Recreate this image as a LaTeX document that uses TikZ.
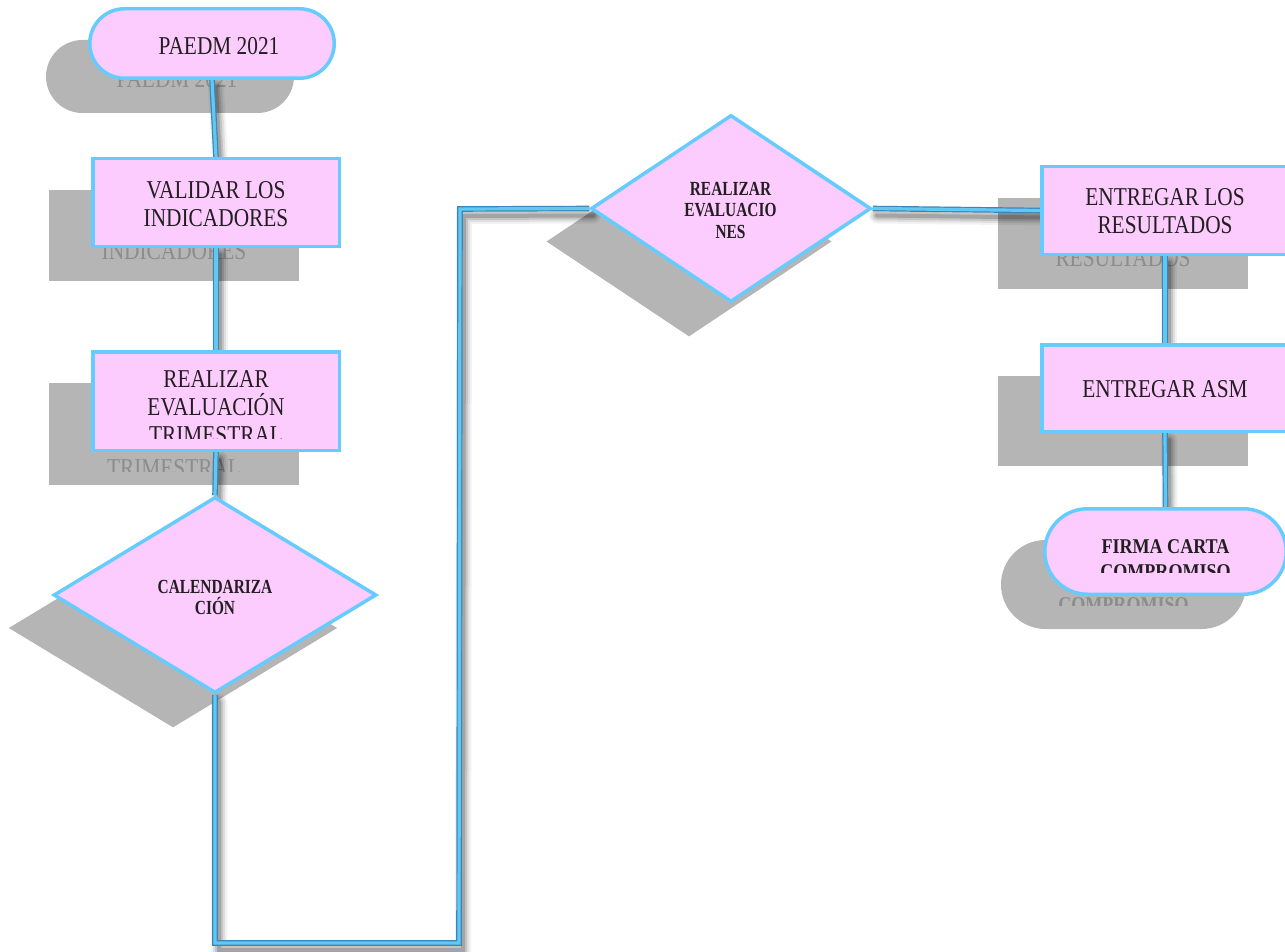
\documentclass[tikz,border=0pt]{standalone}
\usepackage{fontspec}
\setmainfont{Liberation Serif}[FakeStretch=0.83]
\newfontfamily\diafont{Liberation Serif}[FakeStretch=0.77]
\newfontfamily\endfont{Liberation Serif}[FakeStretch=0.86]
\usetikzlibrary{shapes.geometric, shapes.misc}

\definecolor{boxpink}{HTML}{FCCCFE}
\definecolor{boxblue}{HTML}{66CCFF}
\definecolor{shadegray}{HTML}{B5B5B5}
\definecolor{shadetext}{HTML}{8C8C8C}
\definecolor{inkdark}{HTML}{231F20}
\definecolor{wirelight}{HTML}{62C8F2}
\definecolor{wireedge}{HTML}{3A86B8}

\pgfdeclarelayer{back}
\pgfdeclarelayer{wires}
\pgfsetlayers{back,wires,main}

\tikzset{
  shape-main/.style={fill=boxpink, draw=boxblue, line width=3.5pt},
  shape-shade/.style={fill=shadegray, draw=shadegray, line width=3.5pt},
  txt-main/.style={text=inkdark, align=center, inner sep=0pt},
  txt-shade/.style={text=shadetext, align=center, inner sep=0pt},
  dtxt-main/.style={txt-main},
  dtxt-shade/.style={txt-shade, text opacity=0},
  term/.style={rounded rectangle, inner sep=0pt},
  proc/.style={rectangle, inner sep=0pt, minimum width=246.5pt},
  decision/.style={diamond, inner sep=0pt},
  textreg/.style={font=\fontsize{25.7}{27.8}\selectfont},
  textbold/.style={font=\diafont\bfseries\fontsize{20}{21.5}\selectfont},
  textend/.style={font=\endfont\bfseries\fontsize{21}{25}\selectfont},
  wire/.style={draw=wireedge, double=wirelight, line width=1.2pt, double distance=3.2pt},
  wireshade/.style={draw=black, line cap=round, transform canvas={shift={(4pt,-7pt)}}}
}

% all shapes of the chart, #1 = look (main or shade), #2 = name prefix
\newcommand{\chart}[2]{%
  % left column
  \node[term, shape-#1, minimum width=244.5pt, minimum height=69.5pt] (#2paedm) at (212,43.5) {};
  \node[txt-#1, textreg] (#2paedmT) at (219,46) {PAEDM 2021};

  \node[proc, shape-#1, minimum height=87.5pt] (#2valid) at (216,202.5) {};
  \node[txt-#1, textreg] (#2validT) at (216,204) {VALIDAR LOS\\INDICADORES};

  \node[proc, shape-#1, minimum height=98.5pt] (#2trim) at (216,401) {};
  \begin{scope}
    \clip (91,350) rectangle (341,438.5);
    \node[txt-#1, textreg] (#2trimT) at (216,407.3) {REALIZAR\\EVALUACIÓN\\TRIMESTRAL};
  \end{scope}

  \node[decision, shape-#1, minimum width=323pt, minimum height=196pt] (#2cal) at (215,595) {};
  \node[dtxt-#1, textbold] (#2calT) at (215,597.4) {CALENDARIZA\\CIÓN};

  % middle
  \node[decision, shape-#1, minimum width=280pt, minimum height=187pt] (#2eval) at (731,208.5) {};
  \node[dtxt-#1, textbold] (#2evalT) at (730.5,210) {REALIZAR\\EVALUACIO\\NES};

  % right column
  \node[proc, shape-#1, minimum height=87.5pt] (#2res) at (1165,210.5) {};
  \node[txt-#1, textreg] (#2resT) at (1165,211) {ENTREGAR LOS\\RESULTADOS};

  \node[proc, shape-#1, minimum height=86.5pt] (#2asm) at (1165,388) {};
  \node[txt-#1, textreg] (#2asmT) at (1165,389.5) {ENTREGAR ASM};

  \node[term, shape-#1, minimum width=241.5pt, minimum height=85.5pt] (#2firma) at (1165.5,551.5) {};
  \begin{scope}
    \clip (1043,507) rectangle (1288,572);
    \node[txt-#1, textend] (#2firmaT) at (1165.5,559.5) {FIRMA CARTA\\COMPROMISO};
  \end{scope}
}

% connector with its soft shadow
\newcommand{\wireline}[1]{%
  \begin{pgfonlayer}{wires}
    \foreach \shw/\sho in {16/0.05, 12/0.08, 8/0.12, 4/0.16}
      \draw[wireshade, line width=\shw pt, draw opacity=\sho] #1;
    \draw[wire] #1;
  \end{pgfonlayer}
}

\begin{document}
\begin{tikzpicture}[x=1pt, y=-1pt]
  \useasboundingbox (0,0) rectangle (1285,952);

  % shadows
  \begin{pgfonlayer}{back}
    \begin{scope}[shift={(-42,33)}]
      \chart{shade}{s}
    \end{scope}
  \end{pgfonlayer}

  % shapes
  \chart{main}{}

  % turning points of the long connector
  \coordinate (downL) at (215,943);
  \coordinate (downR) at (459,943);
  \coordinate (upR) at (460,209);

  \wireline{(paedm.south) -- (valid.north)}
  \wireline{(valid.south) -- (trim.north)}
  \wireline{(trim.south) -- (cal.north)}
  \wireline{(cal.south) -- (downL) -- (downR) -- (upR) -- (eval.west)}
  \wireline{(eval.east) -- (res.west)}
  \wireline{(res.south) -- (asm.north)}
  \wireline{(asm.south) -- (firma.north)}
\end{tikzpicture}
\end{document}
